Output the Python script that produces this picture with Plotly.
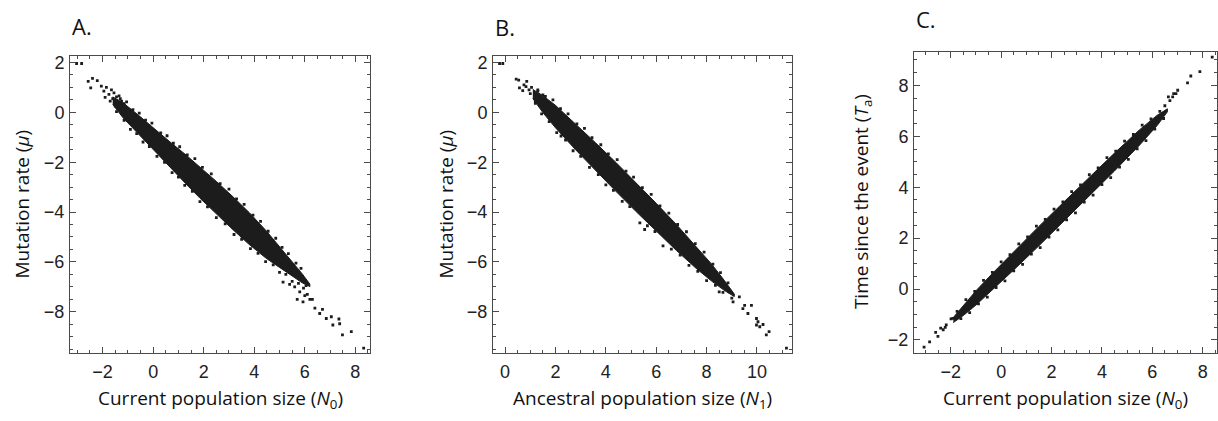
import plotly.graph_objects as go

# ---------------- data ----------------
# Panel A: current population size (N0) vs mutation rate (mu)
bandA_x  = [-1.6, -1.2, -0.6, 0.0, 0.66, 1.3, 1.85, 2.5, 3.16, 3.8, 4.48, 5.0, 5.5, 5.9, 6.2]
bandA_hi = [0.62, 0.39, -0.10, -0.63, -1.18, -1.71, -2.18, -2.77, -3.39, -4.02, -4.76, -5.38, -5.98, -6.48, -6.89]
bandA_lo = [0.32, -0.21, -0.86, -1.47, -2.18, -2.87, -3.44, -4.09, -4.71, -5.30, -5.86, -6.22, -6.58, -6.84, -6.99]
# scattered points (sparse ends and ragged band edges)
ptsA_x = [-3.03, -2.83, -2.57, -2.40, -2.21, -2.47, -2.05, -1.95, -1.85, -1.75, -1.65, -1.55, -1.45,
          -1.35, -1.90, -1.70, -1.25, -1.15, -1.50, -1.60, -1.30,
          -1.3, -1.05, -0.8, -0.55, -0.3, -0.05, 0.3, 0.55, 0.8, 1.05, 1.35, 1.65, 1.95, 2.3, 2.65,
          3.0, 3.3, 3.6, 3.95, 4.25, 4.55, 4.85, 5.1, 5.35, 5.65, 5.85,
          -1.45, -1.15, -0.9, -0.65, -0.4, -0.15, 0.15, 0.45, 0.75, 1.0, 1.25, 1.55, 1.85, 2.15, 2.5,
          2.85, 3.2, 3.5, 3.85, 4.15, 4.45, 4.75, 5.0, 5.25, 5.5, 5.75,
          5.14, 5.4, 5.8, 6.1, 5.6, 6.3, 6.05, 5.95,
          5.93, 6.2, 6.4, 6.59, 6.85, 7.05, 7.11, 7.35, 7.38, 7.49, 7.84, 8.33, 6.0, 6.7, 5.7]
ptsA_y = [1.96, 1.96, 1.24, 1.36, 1.27, 0.98, 1.05, 0.85, 1.00, 0.72, 0.90, 0.78, 0.62,
          0.66, 0.60, 0.45, 0.45, 0.35, 0.25, 0.55, 0.15,
          0.55, 0.42, 0.11, -0.03, -0.31, -0.43, -0.82, -0.94, -1.24, -1.38, -1.71, -1.86, -2.21, -2.47, -2.86,
          -3.08, -3.47, -3.69, -4.12, -4.37, -4.77, -5.05, -5.42, -5.67, -6.05, -6.26,
          0.03, -0.32, -0.68, -0.85, -1.19, -1.37, -1.77, -2.01, -2.42, -2.60, -2.93, -3.17, -3.58, -3.79, -4.22,
          -4.47, -4.90, -5.09, -5.47, -5.66, -5.99, -6.12, -6.42, -6.50, -6.78, -6.86,
          -6.81, -6.90, -7.20, -7.30, -7.00, -7.50, -6.95, -7.05,
          -7.60, -7.50, -7.85, -8.07, -8.27, -8.20, -8.53, -8.29, -8.48, -8.93, -8.80, -9.46, -7.35, -7.90, -7.50]

# Panel B: ancestral population size (N1) vs mutation rate (mu)
bandB_x  = [1.1, 1.5, 2.0, 2.8, 3.6, 4.4, 5.2, 6.0, 6.8, 7.6, 8.2, 8.7, 9.1]
bandB_hi = [0.92, 0.67, 0.28, -0.46, -1.23, -2.01, -2.82, -3.65, -4.50, -5.39, -6.09, -6.74, -7.29]
bandB_lo = [0.56, -0.01, -0.62, -1.50, -2.35, -3.17, -3.98, -4.77, -5.54, -6.27, -6.77, -7.14, -7.39]
ptsB_x = [-0.22, -0.09, 0.44, 0.54, 0.86, 0.57, 0.70, 0.83, 0.95, 1.05, 0.75, 1.00, 1.30, 1.50, 1.20,
          1.3, 1.6, 1.9, 2.2, 2.5, 2.85, 3.15, 3.45, 3.8, 4.1, 4.45, 4.8, 5.1, 5.45, 5.8, 6.15,
          6.5, 6.85, 7.2, 7.55, 7.9, 8.25, 8.55, 8.85,
          1.2, 1.45, 1.75, 2.05, 2.22, 2.4, 2.7, 3.0, 3.35, 3.7, 4.0, 4.3, 4.65, 4.95, 5.35, 5.54,
          5.65, 5.95, 6.27, 6.6, 6.95, 7.3, 7.65, 8.0, 8.35, 8.65,
          8.8, 9.0, 8.5,
          9.05, 9.44, 9.51, 9.64, 9.78, 9.98, 10.04, 9.98, 10.24, 10.11, 10.37, 10.48, 11.17, 9.30, 8.90]
ptsB_y = [1.96, 1.96, 1.33, 1.29, 1.24, 0.98, 0.87, 1.03, 0.90, 1.00, 1.10, 0.75, 0.85, 0.70, 0.45,
          0.90, 0.64, 0.50, 0.15, -0.06, -0.46, -0.64, -1.02, -1.30, -1.67, -1.90, -2.36, -2.60, -3.02, -3.29, -3.75,
          -4.04, -4.50, -4.79, -5.27, -5.61, -6.09, -6.43, -6.84,
          0.36, -0.06, -0.37, -0.81, -0.95, -1.11, -1.54, -1.77, -2.21, -2.50, -2.91, -3.13, -3.57, -3.78, -4.43, -4.70,
          -4.55, -4.78, -5.36, -5.49, -5.73, -6.14, -6.38, -6.75, -6.94, -7.22,
          -7.10, -7.45, -7.20,
          -7.60, -7.87, -7.74, -8.07, -7.74, -8.27, -8.40, -8.53, -8.51, -8.60, -8.93, -8.80, -9.46, -7.40, -7.20]

# Panel C: current population size (N0) vs time since the event (Ta)
bandC_x  = [-1.9, -1.5, -1.0, -0.3, 0.5, 1.5, 2.5, 3.5, 4.5, 5.5, 6.2, 6.6]
bandC_hi = [-1.12, -0.64, -0.07, 0.66, 1.47, 2.46, 3.43, 4.39, 5.34, 6.26, 6.83, 7.08]
bandC_lo = [-1.32, -1.04, -0.63, 0.00, 0.75, 1.70, 2.67, 3.65, 4.64, 5.66, 6.43, 6.96]
ptsC_x = [-3.06, -2.84, -2.51, -2.40, -2.22, -2.18, -1.99, -1.92, -2.60, -2.30,
          -1.75, -1.4, -1.05, -0.7, -0.35, 0.0, 0.35, 0.7, 1.05, 1.4, 1.75, 2.1, 2.45, 2.8,
          3.15, 3.5, 3.85, 4.2, 4.55, 4.9, 5.25, 5.6, 5.95, 6.3,
          -1.6, -1.25, -0.9, -0.55, -0.2, 0.15, 0.5, 0.85, 1.2, 1.55, 1.9, 2.25, 2.6, 2.95,
          3.3, 3.65, 4.0, 4.35, 4.7, 5.05, 5.4, 5.75, 6.1, 6.45,
          8.38, 7.89, 7.53, 7.40, 7.01, 6.94, 6.85, 6.64, 6.81, 6.70, 6.50]
ptsC_y = [-2.28, -2.08, -1.86, -1.54, -1.51, -1.41, -1.17, -1.15, -1.70, -1.60,
          -0.88, -0.42, -0.09, 0.34, 0.65, 1.07, 1.35, 1.77, 2.05, 2.47, 2.74, 3.14, 3.42, 3.83,
          4.09, 4.49, 4.76, 5.16, 5.42, 5.81, 6.07, 6.44, 6.68, 6.98,
          -1.16, -0.93, -0.58, -0.32, 0.06, 0.32, 0.71, 0.97, 1.37, 1.63, 2.04, 2.32, 2.72, 2.99,
          3.41, 3.69, 4.10, 4.38, 4.79, 5.09, 5.51, 5.83, 6.28, 6.70,
          9.11, 8.54, 8.37, 8.10, 7.81, 7.68, 7.68, 7.55, 7.55, 7.40, 7.20]

panel_labels = ["A.", "B.", "C."]
x_titles = ["Current population size (<i>N</i><sub>0</sub>)",
            "Ancestral population size (<i>N</i><sub>1</sub>)",
            "Current population size (<i>N</i><sub>0</sub>)"]
y_titles = ["Mutation rate (<i>μ</i>)", "Mutation rate (<i>μ</i>)",
            "Time since the event (<i>T</i><sub>a</sub>)"]

# ---------------- figure ----------------
W, H = 1218, 421
INK = "#1c1c1c"
FRAME = "#4a4a4a"
TXT = "#111111"
TITLE_FONT = "Open Sans, sans-serif"

panels = [
    dict(band=(bandA_x, bandA_hi, bandA_lo), pts=(ptsA_x, ptsA_y),
         px=(70, 370), py=(53, 352), xr=[-3.29, 8.58], yr=[-9.64, 2.24], lab_y=22, yt_x=22),
    dict(band=(bandB_x, bandB_hi, bandB_lo), pts=(ptsB_x, ptsB_y),
         px=(493, 792), py=(53, 352), xr=[-0.48, 11.39], yr=[-9.64, 2.24], lab_y=23, yt_x=446),
    dict(band=(bandC_x, bandC_hi, bandC_lo), pts=(ptsC_x, ptsC_y),
         px=(914, 1217), py=(48, 352), xr=[-3.46, 8.57], yr=[-2.50, 9.33], lab_y=15, yt_x=862),
]

fig = go.Figure()
annotations = []
for i, p in enumerate(panels):
    n = "" if i == 0 else str(i + 1)
    xa, ya = "x" + n, "y" + n
    bx, bhi, blo = p["band"]
    fig.add_trace(go.Scatter(
        x=list(bx) + list(bx)[::-1], y=list(bhi) + list(blo)[::-1],
        mode="lines", fill="toself", fillcolor=INK,
        line=dict(color=INK, width=1), xaxis=xa, yaxis=ya,
        hoverinfo="skip", showlegend=False))
    fig.add_trace(go.Scatter(
        x=p["pts"][0], y=p["pts"][1], mode="markers",
        marker=dict(symbol="square", size=2.8, color=INK, line=dict(width=0)),
        xaxis=xa, yaxis=ya, showlegend=False))

    axis_common = dict(
        showgrid=False, zeroline=False, showline=True, linecolor=FRAME, linewidth=1,
        mirror="allticks", ticks="inside", ticklen=6, tickwidth=1, tickcolor=FRAME,
        dtick=2, tick0=0,
        minor=dict(ticks="inside", ticklen=3, tickcolor=FRAME, dtick=0.5, tick0=0, showgrid=False),
        tickfont=dict(family="Liberation Sans, Arial, sans-serif", size=18, color="#222222"),
        fixedrange=True,
    )
    x0, x1 = p["px"]
    y0, y1 = p["py"]
    fig.layout["xaxis" + n] = dict(axis_common, range=p["xr"], domain=[x0 / W, x1 / W],
                                   anchor=ya, ticklabelstandoff=3)
    fig.layout["yaxis" + n] = dict(axis_common, range=p["yr"],
                                   domain=[(H - y1) / H, (H - y0) / H], anchor=xa,
                                   ticklabelstandoff=1)

    annotations.append(dict(text=panel_labels[i], x=x0 / W, y=(H - p["lab_y"]) / H,
                            xref="paper", yref="paper", xanchor="left", yanchor="middle",
                            showarrow=False,
                            font=dict(family=TITLE_FONT, size=22, color=TXT)))
    annotations.append(dict(text=x_titles[i], x=(x0 + x1) / 2 / W, y=(H - 399) / H,
                            xref="paper", yref="paper", xanchor="center", yanchor="middle",
                            showarrow=False,
                            font=dict(family=TITLE_FONT, size=19, color=TXT)))
    annotations.append(dict(text=y_titles[i], x=p["yt_x"] / W, y=(H - (y0 + y1) / 2) / H,
                            xref="paper", yref="paper", xanchor="center", yanchor="middle",
                            textangle=-90, showarrow=False,
                            font=dict(family=TITLE_FONT, size=19, color=TXT)))

fig.update_layout(width=W, height=H, margin=dict(l=0, r=0, t=0, b=0),
                  paper_bgcolor="white", plot_bgcolor="white",
                  annotations=annotations, showlegend=False)

fig.write_html("out.html")
